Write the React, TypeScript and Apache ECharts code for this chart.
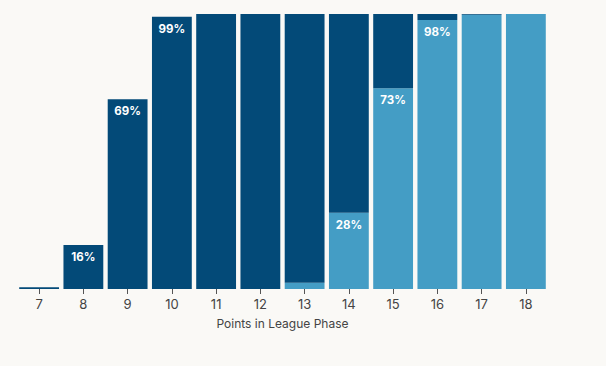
import React, { useEffect, useRef } from "react";
import * as echarts from "echarts";

const categories = ["7", "8", "9", "10", "11", "12", "13", "14", "15", "16", "17", "18"];
// bottom (light) segment
const lightValues = [0, 0, 0, 0, 0, 0, 2.3, 27.7, 73, 97.8, 99.7, 100];
// top (dark) segment
const darkValues = [0.6, 16, 69, 99, 100, 100, 97.7, 72.3, 27, 2.2, 0.3, 0];
const darkLabelIdx = [1, 2, 3];
const lightLabelIdx = [7, 8, 9];
const darkLabels = [16, 69, 99];
const lightLabels = [28, 73, 98];

const DARK = "#034a78";
const LIGHT = "#449dc5";
const FONT = "Inter, Roboto, sans-serif";

export default function App() {
  const ref = useRef<HTMLDivElement>(null);
  useEffect(() => {
    if (!ref.current) return;
    const chart = echarts.init(ref.current, null, { renderer: "svg" });
    const labelStyle = {
      show: true,
      position: "insideTop",
      distance: 6,
      color: "#ffffff",
      fontWeight: "bold",
      fontSize: 11.5,
      fontFamily: FONT,
    };
    chart.setOption({
      animation: false,
      backgroundColor: "#faf9f6",
      grid: { left: 17, right: 58, top: 14, bottom: 77 },
      xAxis: {
        type: "category",
        data: categories,
        axisLine: { show: false },
        axisTick: { show: true, alignWithLabel: true, length: 5, lineStyle: { color: "#555" } },
        axisLabel: { color: "#444", fontSize: 13, fontFamily: FONT, margin: 8 },
        name: "Points in League Phase",
        nameLocation: "middle",
        nameGap: 28,
        nameTextStyle: { color: "#444", fontSize: 12, fontFamily: FONT },
      },
      yAxis: { type: "value", min: 0, max: 100, show: false },
      series: [
        {
          type: "bar",
          stack: "s",
          barCategoryGap: "10%",
          itemStyle: { color: LIGHT },
          data: lightValues.map((v, i) => {
            const k = lightLabelIdx.indexOf(i);
            return k >= 0
              ? { value: v, label: { ...labelStyle, formatter: lightLabels[k] + "%" } }
              : { value: v };
          }),
        },
        {
          type: "bar",
          stack: "s",
          barCategoryGap: "10%",
          itemStyle: { color: DARK },
          data: darkValues.map((v, i) => {
            const k = darkLabelIdx.indexOf(i);
            return k >= 0
              ? { value: v, label: { ...labelStyle, formatter: darkLabels[k] + "%" } }
              : { value: v };
          }),
        },
      ],
    });
    return () => chart.dispose();
  }, []);
  return (
    <div
      ref={ref}
      style={{ position: "absolute", left: 0, top: 0, width: 606, height: 366 }}
    />
  );
}
